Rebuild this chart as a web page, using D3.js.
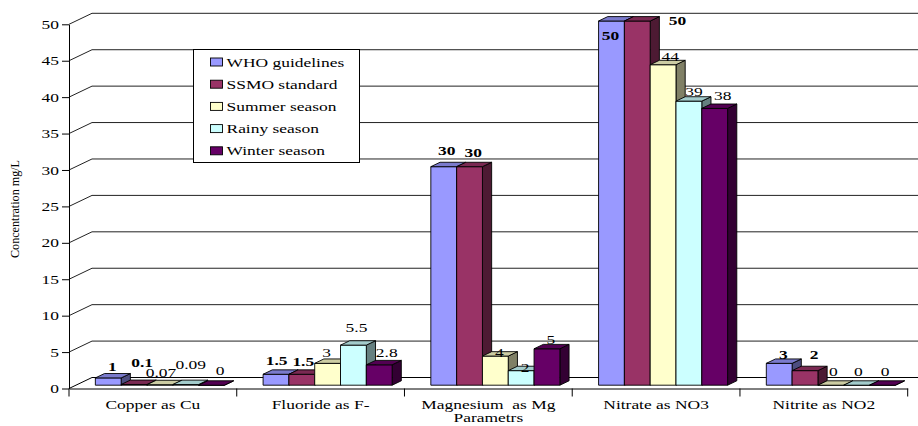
<!DOCTYPE html>
<html>
<head>
<meta charset="utf-8">
<script src="https://cdn.jsdelivr.net/npm/d3@7/dist/d3.min.js"></script>
<style>
  html, body { margin: 0; padding: 0; background: #fff; }
  svg { display: block; }
  svg text { white-space: pre; }
</style>
</head>
<body>
<svg id="chart" width="918" height="426"></svg>
<script>
// Parameters and measured concentrations (mg/L)
const categories = ["Copper as Cu", "Fluoride as F-", "Magnesium  as Mg", "Nitrate as NO3", "Nitrite as NO2"];
const seriesNames = ["WHO guidelines", "SSMO standard", "Summer season", "Rainy season", "Winter season"];
const whoValues    = [1, 1.5, 30, 50, 3];
const ssmoValues   = [0.1, 1.5, 30, 50, 2];
const summerValues = [0.07, 3, 4, 44, 0];
const rainyValues  = [0.09, 5.5, 2, 39, 0];
const winterValues = [0, 2.8, 5, 38, 0];
const yTickValues  = [0, 5, 10, 15, 20, 25, 30, 35, 40, 45, 50];

const seriesValues = [whoValues, ssmoValues, summerValues, rainyValues, winterValues];
const seriesColors = ["#9999FF", "#993366", "#FFFFCC", "#CCFFFF", "#660066"];
const boldSeries = [true, true, false, false, false];

const FONT = 13;

// pick the first installed Times-like face
const ctx = document.createElement("canvas").getContext("2d");
function hasFont(name) {
  const probe = "Copper as Cu 0123456789 WHO guidelines";
  return ["monospace", "sans-serif"].some(base => {
    ctx.font = `40px ${base}`;
    const w0 = ctx.measureText(probe).width;
    ctx.font = `40px "${name}", ${base}`;
    return Math.abs(ctx.measureText(probe).width - w0) > 0.5;
  });
}
const serifFace = ["Liberation Serif", "Times New Roman", "Tinos", "Nimbus Roman", "DejaVu Serif", "Noto Serif"]
  .find(hasFont);
const SERIF = serifFace ? `"${serifFace}", serif` : "serif";
// widen the glyphs so "Copper as Cu" spans about 95px
ctx.font = `${FONT}px ${SERIF}`;
const SX = 95 / ctx.measureText("Copper as Cu").width;

const svg = d3.select("#chart");

// plot geometry
const x0 = 69, x1 = 907.7, yBase = 388.5, yTop = 24.3;
const wall = { dx: 23, dy: -11 };        // depth of the floor / back wall
const barFront = { dx: 7, dy: -3.3 };    // bars sit slightly behind the front plane
const barDepth = { dx: 9.2, dy: -4.4 };

const y = d3.scaleLinear().domain([0, 50]).range([yBase, yTop]);
const x = d3.scaleBand().domain(categories).range([x0, x1]).paddingInner(0).paddingOuter(0);
const xs = d3.scaleBand().domain(d3.range(seriesNames.length)).range([0, x.bandwidth()])
  .paddingInner(0).paddingOuter(0.75);

function sText(parent, px, py, str, anchor, opts = {}) {
  return parent.append("text")
    .attr("transform", `translate(${px},${py}) scale(${SX},1)`)
    .attr("text-anchor", anchor)
    .attr("font-family", SERIF)
    .attr("font-size", opts.size || FONT)
    .attr("font-weight", opts.bold ? "bold" : "normal")
    .attr("fill", "#000")
    .text(str);
}

// ---- back wall gridlines and left wall diagonals ----
const grid = svg.append("g").attr("stroke-width", 1).attr("fill", "none");
yTickValues.forEach(v => {
  const yy = y(v);
  grid.append("path")
    .attr("d", `M${x0},${yy}L${x0 + wall.dx},${yy + wall.dy}L${938},${yy + wall.dy}`)
    .attr("stroke", v === 0 ? "#000" : "#222");
});

// ---- axes ----
const yAxis = d3.axisLeft(y).tickValues(yTickValues).tickSize(7).tickPadding(3).tickSizeOuter(0);
const gy = svg.append("g").attr("transform", `translate(${x0},0)`).call(yAxis)
  .attr("font-family", SERIF).attr("font-size", FONT);
gy.selectAll("text")
  .attr("fill", "#000")
  .each(function () {
    const t = d3.select(this);
    const xx = +t.attr("x");
    t.attr("x", xx / SX).attr("transform", `scale(${SX},1)`);
  });
gy.selectAll("line, path").attr("stroke", "#000");

const xAxis = d3.axisBottom(x).tickSize(0).tickPadding(11).tickSizeOuter(0);
const gx = svg.append("g").attr("transform", `translate(0,${yBase})`).call(xAxis)
  .attr("font-family", SERIF).attr("font-size", FONT);
gx.selectAll(".tick").each(function () {
  const tick = d3.select(this);
  const m = /translate\(([-\d.]+)/.exec(tick.attr("transform"));
  const cx = +m[1];
  tick.attr("transform", null);
  tick.select("text").attr("fill", "#000").attr("x", cx / SX).attr("transform", `scale(${SX},1)`);
});
gx.select(".domain").attr("stroke", "#000");
// ticks at category boundaries
const bounds = categories.map(c => x(c)).concat([x1]);
svg.append("g").selectAll("line").data(bounds).join("line")
  .attr("x1", d => d).attr("x2", d => d)
  .attr("y1", yBase).attr("y2", yBase + 8)
  .attr("stroke", "#000");

// ---- bars ----
function shade(col, k) {
  const c = d3.rgb(col);
  return d3.rgb(c.r * k, c.g * k, c.b * k).formatHex();
}

const bars = svg.append("g").attr("stroke", "#000").attr("stroke-width", 0.9).attr("stroke-linejoin", "round");
const labelInfo = [];
categories.forEach((cat, ci) => {
  seriesNames.forEach((s, si) => {
    const v = seriesValues[si][ci];
    const fl = x(cat) + xs(si) + barFront.dx;
    const bw = xs.bandwidth();
    const yt = y(v) + barFront.dy;
    const yb = y(0) + barFront.dy;
    const dx = barDepth.dx, dy = barDepth.dy;
    const col = seriesColors[si];
    // side face
    bars.append("path")
      .attr("d", `M${fl + bw},${yt}L${fl + bw + dx},${yt + dy}L${fl + bw + dx},${yb + dy}L${fl + bw},${yb}Z`)
      .attr("fill", shade(col, 0.5));
    // front face
    bars.append("path")
      .attr("d", `M${fl},${yt}L${fl + bw},${yt}L${fl + bw},${yb}L${fl},${yb}Z`)
      .attr("fill", col);
    // top face
    bars.append("path")
      .attr("d", `M${fl},${yt}L${fl + bw},${yt}L${fl + bw + dx},${yt + dy}L${fl + dx},${yt + dy}Z`)
      .attr("fill", shade(col, 0.8));
    labelInfo.push({ ci, si, v, cx: fl + 16, base: yt + dy - 2 });
  });
});

// label placement offsets [dx, dy] by "series-category"
const labelShift = {
  "0-0": [1, -1], "1-0": [5, -11], "2-0": [-2, -1], "3-0": [2, -9], "4-0": [5.5, -4],
  "0-1": [-2.4, -2.4], "1-1": [-1.6, -1.4], "2-1": [-4, 0], "3-1": [0, -6.6], "4-1": [4.4, -1.2],
  "0-2": [0, -5], "1-2": [0.7, -3], "2-2": [0.9, 7], "3-2": [0.8, 8], "4-2": [0.7, 1.4],
  "0-3": [-4, 25.7], "1-3": [37, 10.7], "2-3": [4, 2.7], "3-3": [2, 1.3], "4-3": [5, -2.4],
  "0-4": [1, 1.8], "1-4": [6, -5.4], "2-4": [-0.6, -3.3], "3-4": [-1.4, -3.3], "4-4": [-0.5, -3.3]
};
const labels = svg.append("g");
labelInfo.forEach(d => {
  const sh = labelShift[`${d.si}-${d.ci}`] || [0, 0];
  sText(labels, d.cx + sh[0], d.base + sh[1], String(d.v), "middle", { bold: boldSeries[d.si] });
});

// ---- axis titles ----
sText(svg, (x0 + x1) / 2, 422, "Parametrs", "middle");
svg.append("text")
  .attr("transform", "translate(19,209) rotate(-90)")
  .attr("text-anchor", "middle")
  .attr("font-family", SERIF)
  .attr("font-size", 12)
  .attr("textLength", 98)
  .attr("lengthAdjust", "spacingAndGlyphs")
  .text("Concentration mg/L");

// ---- legend ----
const lg = svg.append("g");
lg.append("rect").attr("x", 193.5).attr("y", 49.5).attr("width", 166).attr("height", 113)
  .attr("fill", "#fff").attr("stroke", "#000");
seriesNames.forEach((s, i) => {
  const cy = 62 + i * 22.2;
  lg.append("rect").attr("x", 210.5).attr("y", cy - 4).attr("width", 12).attr("height", 8)
    .attr("fill", seriesColors[i]).attr("stroke", "#000").attr("stroke-width", 0.9);
  sText(lg, 226.5, cy + 4.5, s, "start");
});
</script>
</body>
</html>
